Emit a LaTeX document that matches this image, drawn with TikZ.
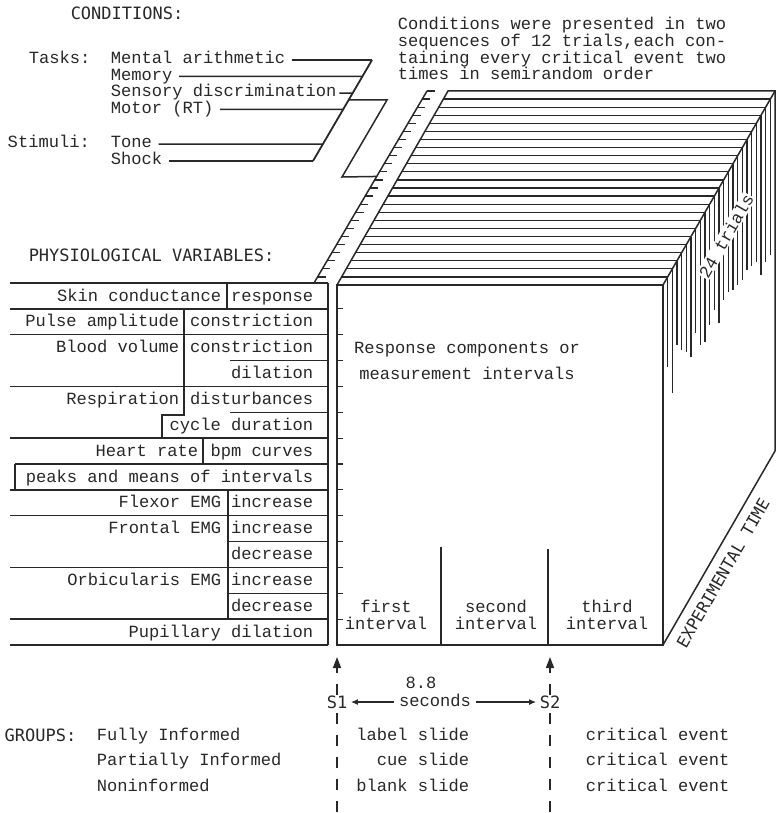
\documentclass[tikz,border=0pt]{standalone}
\usepackage{fontspec}
\setmonofont{Liberation Mono}
\newfontfamily\headfont{DejaVu Sans Mono}
\usepackage{tikz}
\usetikzlibrary{arrows.meta, positioning, calc}
\definecolor{ink}{RGB}{40,40,40}

\begin{document}
\begin{tikzpicture}[x=1pt, y=-1pt, >=Latex, color=ink, line width=1.5pt,
  tt/.style={font=\ttfamily\fontsize{17.1}{16.7}\selectfont, inner sep=0pt,
             text height=8pt, text depth=0pt},
  ttblock/.style={font=\ttfamily\fontsize{17.1}{16.7}\selectfont, inner sep=0pt},
  head/.style={font=\headfont\fontsize{17}{17}\selectfont, inner sep=0pt},
  slice/.style={line width=1.2pt},
  link/.style={shorten <=6pt},
  stim/.style={dash pattern=on 11pt off 11pt},
]
\fill[white] (0,0) rectangle (777,813);
\useasboundingbox (0,0) rectangle (777,813);

% Conditions
\node[head, anchor=west] (condhd) at (70,13.5) {CONDITIONS:};
\node[tt, anchor=west] (tasks) at (28,60) {Tasks:};
\node[tt, anchor=west] (arith) at (110,60) {Mental arithmetic};
\node[tt, anchor=west] (memory) at (110,76.5) {Memory};
\node[tt, anchor=west] (sensory) at (110,93) {Sensory discrimination};
\node[tt, anchor=west] (motor) at (110,109.5) {Motor (RT)};
\node[tt, anchor=west] (stimuli) at (7,144) {Stimuli:};
\node[tt, anchor=west] (tone) at (110,144) {Tone};
\node[tt, anchor=west] (shock) at (110,161) {Shock};

\coordinate (bkt) at (372,60);
\coordinate (bkb) at (313,161);
\path (bkt) -- (bkb) coordinate[pos=0.163] (bk2) coordinate[pos=0.327] (bk3)
      coordinate[pos=0.396] (bkz) coordinate[pos=0.49] (bk4) coordinate[pos=0.832] (bk5);
\draw[line width=1.8pt] (bkt) -- (bkb);
\draw[link] (arith.east) -- (bkt);
\draw[link] (memory.east) -- (bk2);
\draw[shorten <=2pt] (sensory.east) -- (bk3);
\draw[link] (motor.east) -- (bk4);
\draw[link] (tone.east) -- (bk5);
\draw[link] (shock.east) -- (bkb);

% Trial ruler
\coordinate (rb) at (314,283);
\coordinate (rt) at (427,91);
\draw (rb) -- (rt);
\foreach \i in {1,...,24}
  \draw[slice] ($(rb)!{(8.083*\i-2)/192}!(rt)$) -- ++(8,0);
\path (rb) -- (rt) coordinate[pos=0.555] (rz);
\coordinate (zr) at (387,100);
\coordinate (zl) at (342,177);
\draw (bkz) -- (zr) -- (zl) -- (rz);

% Note
\node[ttblock, align=left, anchor=north west] (note) at (397,16.5)
     {Conditions were presented in two\\sequences of 12 trials,each con-\\taining every critical event two\\times in semirandom order};

% Cube
\coordinate (fa) at (337,285);
\coordinate (fb) at (663,285);
\coordinate (fc) at (663,645);
\coordinate (fd) at (337,645);
\coordinate (ba) at (448,91);
\coordinate (bb) at (775,91);
\coordinate (bc) at (775,451);
\draw (fa) -- (fb) -- (fc) -- (fd) -- cycle;
\draw (fa) -- (ba) -- (bb) -- (bc) -- (fc);
\draw (fb) -- (bb);
\foreach \i in {1,...,23}
  \draw[slice] ($(fa)!\i/24!(ba)$) -- ($(fb)!\i/24!(bb)$);
\foreach \i/\e in {1/367,2/393,3/345,4/350,5/352,6/357,7/333,8/345,9/342,10/325,
                   11/310,12/323,13/300,14/292,15/290,16/285,17/280,18/270,19/266,
                   20/262,21/275,22/262,23/255} {
  \coordinate (p) at ($(fb)!\i/24!(bb)$);
  \draw[slice] (p) -- (p |- 0,\e);
}
\node[ttblock, fill=white, rotate=60, inner sep=1pt] (trials) at (726,236) {24 trials};
\node[head, font=\headfont\fontsize{16.5}{16.5}\selectfont, rotate=60] (exptime)
     at (723,573) {EXPERIMENTAL TIME};

% Intervals
\foreach \k in {1,...,13}
  \draw[slice] (337,{283+25.86*\k}) -- ++(6,0);
\draw (441,547) -- (441,645);
\draw (548,549) -- (548,645);
\node[ttblock, align=center] (int1) at (386,615) {first\\interval};
\node[ttblock, align=center] (int2) at (496,615) {second\\interval};
\node[ttblock, align=center] (int3) at (607,615) {third\\interval};
\node[font=\ttfamily\fontsize{17.1}{26}\selectfont, inner sep=0pt, align=center]
     (resp) at (467,361) {Response components or\\measurement intervals};

% Physiological variables
\node[head, anchor=west] (physhd) at (28,255) {PHYSIOLOGICAL VARIABLES:};
\foreach \k in {0,1,2,4,6,8,9,11,13,14}
  \draw (10,{283+25.86*\k}) -- (328,{283+25.86*\k});
\foreach \k/\xa in {3/230,5/230,7/15,10/228,12/228}
  \draw (\xa,{283+25.86*\k}) -- (328,{283+25.86*\k});
\draw (328,283) -- (328,645);
\draw (227,283) -- (227,308.9);
\draw (184,308.9) -- (184,415) -- (162,415) -- (162,438.2);
\draw (203,438.2) -- (203,464);
\draw (15,464) -- (15,489.9);
\draw (228,489.9) -- (228,619.2);

\node[tt, anchor=east] (skin) at (222,297) {Skin conductance};
\node[tt, anchor=east] (pulse) at (180,322.9) {Pulse amplitude};
\node[tt, anchor=east] (blood) at (180,348.7) {Blood volume};
\node[tt, anchor=east] (resp2) at (180,400.4) {Respiration};
\node[tt, anchor=east] (heart) at (199,452.2) {Heart rate};
\node[tt, anchor=east] (flexor) at (222,503.9) {Flexor EMG};
\node[tt, anchor=east] (frontal) at (222,529.7) {Frontal EMG};
\node[tt, anchor=east] (orbic) at (222,581.5) {Orbicularis EMG};
\node[tt, anchor=east] (pupil) at (314,633.2) {Pupillary dilation};
\foreach \k/\t in {0/response, 1/constriction, 2/constriction, 3/dilation,
                   4/disturbances, 5/cycle duration, 6/bpm curves,
                   7/peaks and means of intervals, 8/increase, 9/increase,
                   10/decrease, 11/increase, 12/decrease}
  \node[tt, anchor=east] (m\k) at (314,{297+25.86*\k}) {\t};

% Stimulus markers
\node[head] (s1) at (337,702) {S1};
\node[head] (s2) at (550,702) {S2};
\coordinate (s1tip) at (337,657);
\coordinate (s2tip) at (550,657);
\coordinate (s1end) at (337,813);
\coordinate (s2end) at (550,813);
\draw[stim, -{Triangle[length=11pt,width=8pt]}] (s1) -- (s1tip);
\draw[stim, -{Triangle[length=11pt,width=8pt]}] (s2) -- (s2tip);
\draw[stim, shorten <=4pt] (s1) -- (s1end);
\draw[stim, shorten <=4pt] (s2) -- (s2end);
\node[ttblock] (dur) at (421,683) {8.8};
\node[tt] (sec) at (435,702) {seconds};
\draw[line width=1.1pt, -{Latex[length=7pt,width=6pt]}, shorten <=4pt, shorten >=3pt] (sec) -- (s1);
\draw[line width=1.1pt, -{Latex[length=7pt,width=6pt]}, shorten <=4pt, shorten >=3pt] (sec) -- (s2);

% Groups
\node[head, anchor=west] (groups) at (4,735) {GROUPS:};
\node[tt, anchor=west] (full) at (96,736) {Fully Informed};
\node[tt, anchor=west] (part) at (96,761.5) {Partially Informed};
\node[tt, anchor=west] (none) at (96,787) {Noninformed};
\node[tt, anchor=east] (lblslide) at (470,736) {label slide};
\node[tt, anchor=east] (cueslide) at (470,761.5) {cue slide};
\node[tt, anchor=east] (blkslide) at (470,787) {blank slide};
\node[tt, anchor=west] (crit1) at (585,736) {critical event};
\node[tt, anchor=west] (crit2) at (585,761.5) {critical event};
\node[tt, anchor=west] (crit3) at (585,787) {critical event};

\end{tikzpicture}
\end{document}
